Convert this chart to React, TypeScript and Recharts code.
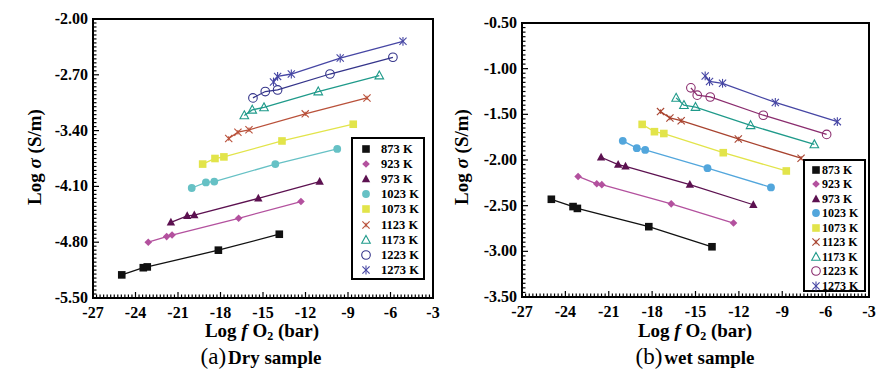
import React from 'react';
import { ScatterChart, Scatter, XAxis, YAxis, ReferenceArea } from 'recharts';

// ---------- data ----------
const tempLabels = ['873 K', '923 K', '973 K', '1023 K', '1073 K', '1123 K', '1173 K', '1223 K', '1273 K'];
const markerKinds = ['square', 'diamond', 'triangle', 'circle', 'square', 'x', 'openTriangle', 'openCircle', 'star'];
const dryColors = ['#111111', '#b3519e', '#5c1150', '#66c1c5', '#e2e44a', '#b9513a', '#1f9a8a', '#34348a', '#4646a4'];
const wetColors = ['#111111', '#b3519e', '#5c1150', '#52a6dc', '#e2e44a', '#a8432f', '#1f9a8a', '#8a2c6e', '#4646a4'];

const xTicks = [-27, -24, -21, -18, -15, -12, -9, -6, -3];
const dryYTicks = [-5.5, -4.8, -4.1, -3.4, -2.7, -2.0];
const wetYTicks = [-3.5, -3.0, -2.5, -2.0, -1.5, -1.0, -0.5];

// Dry sample: [log fO2, log sigma]
const dry873 = [[-24.97, -5.21], [-23.45, -5.12], [-23.17, -5.11], [-18.15, -4.90], [-13.85, -4.70]];
const dry923 = [[-23.1, -4.80], [-21.8, -4.73], [-21.42, -4.71], [-16.72, -4.50], [-12.32, -4.29]];
const dry973 = [[-21.5, -4.55], [-20.35, -4.47], [-19.85, -4.46], [-15.33, -4.25], [-11.0, -4.04]];
const dry1023 = [[-20.03, -4.12], [-19.03, -4.05], [-18.44, -4.04], [-14.13, -3.82], [-9.76, -3.63]];
const dry1073 = [[-19.26, -3.82], [-18.39, -3.75], [-17.76, -3.73], [-13.66, -3.53], [-8.63, -3.32]];
const dry1123 = [[-17.42, -3.50], [-16.77, -3.42], [-15.99, -3.39], [-12.02, -3.19], [-7.66, -2.99]];
const dry1173 = [[-16.32, -3.21], [-15.76, -3.14], [-14.93, -3.11], [-11.1, -2.91], [-6.79, -2.71]];
const dry1223 = [[-15.71, -2.99], [-14.84, -2.91], [-13.97, -2.89], [-10.27, -2.69], [-5.83, -2.48]];
const dry1273 = [[-14.26, -2.79], [-13.97, -2.72], [-13.0, -2.69], [-9.55, -2.49], [-5.12, -2.28]];

// Wet sample
const wet873 = [[-24.97, -2.43], [-23.47, -2.51], [-23.17, -2.53], [-18.23, -2.73], [-13.86, -2.95]];
const wet923 = [[-23.12, -2.18], [-21.83, -2.26], [-21.48, -2.27], [-16.68, -2.48], [-12.37, -2.69]];
const wet973 = [[-21.53, -1.97], [-20.35, -2.05], [-19.84, -2.07], [-15.39, -2.27], [-11.0, -2.49]];
const wet1023 = [[-20.03, -1.79], [-19.06, -1.87], [-18.48, -1.89], [-14.17, -2.09], [-9.78, -2.30]];
const wet1073 = [[-18.69, -1.61], [-17.84, -1.69], [-17.19, -1.71], [-13.08, -1.92], [-8.72, -2.12]];
const wet1123 = [[-17.42, -1.47], [-16.77, -1.54], [-15.99, -1.57], [-12.04, -1.77], [-7.70, -1.98]];
const wet1173 = [[-16.34, -1.32], [-15.8, -1.40], [-15.0, -1.42], [-11.19, -1.62], [-6.78, -1.83]];
const wet1223 = [[-15.32, -1.21], [-14.88, -1.29], [-13.98, -1.31], [-10.31, -1.51], [-5.93, -1.72]];
const wet1273 = [[-14.33, -1.08], [-14.03, -1.14], [-13.13, -1.16], [-9.48, -1.37], [-5.19, -1.58]];

const drySeries = [dry873, dry923, dry973, dry1023, dry1073, dry1123, dry1173, dry1223, dry1273];
const wetSeries = [wet873, wet923, wet973, wet1023, wet1073, wet1123, wet1173, wet1223, wet1273];

// ---------- helpers ----------
const FONT = 'Liberation Serif, serif';

function range(a: number, b: number, step: number) {
  const out: number[] = [];
  const n = Math.round((b - a) / step);
  for (let i = 0; i <= n; i++) out.push(Math.round((a + i * step) * 1000) / 1000);
  return out;
}

const isMajor = (v: number, majors: number[]) => majors.some((m) => Math.abs(m - v) < 1e-6);

function drawMarker(kind: string, color: string, cx: number, cy: number, key?: any) {
  switch (kind) {
    case 'square':
      return <rect key={key} x={cx - 3.8} y={cy - 3.8} width={7.6} height={7.6} fill={color} />;
    case 'diamond':
      return <polygon key={key} points={`${cx},${cy - 3.8} ${cx + 3.8},${cy} ${cx},${cy + 3.8} ${cx - 3.8},${cy}`} fill={color} />;
    case 'triangle':
      return <polygon key={key} points={`${cx},${cy - 4.6} ${cx + 4.2},${cy + 3.2} ${cx - 4.2},${cy + 3.2}`} fill={color} />;
    case 'circle':
      return <circle key={key} cx={cx} cy={cy} r={3.9} fill={color} />;
    case 'openTriangle':
      return <polygon key={key} points={`${cx},${cy - 4.6} ${cx + 4.3},${cy + 3.3} ${cx - 4.3},${cy + 3.3}`} fill="none" stroke={color} strokeWidth={1.1} />;
    case 'openCircle':
      return <circle key={key} cx={cx} cy={cy} r={4.3} fill="none" stroke={color} strokeWidth={1.1} />;
    case 'x':
      return (
        <g key={key} stroke={color} strokeWidth={1.1}>
          <line x1={cx - 3.6} y1={cy - 3.6} x2={cx + 3.6} y2={cy + 3.6} />
          <line x1={cx - 3.6} y1={cy + 3.6} x2={cx + 3.6} y2={cy - 3.6} />
          <line x1={cx} y1={cy - 2.2} x2={cx} y2={cy + 2.2} />
        </g>
      );
    case 'star':
    default:
      return (
        <g key={key} stroke={color} strokeWidth={1.1}>
          <line x1={cx - 3.6} y1={cy - 3.6} x2={cx + 3.6} y2={cy + 3.6} />
          <line x1={cx - 3.6} y1={cy + 3.6} x2={cx + 3.6} y2={cy - 3.6} />
          <line x1={cx} y1={cy - 4.4} x2={cx} y2={cy + 4.4} />
        </g>
      );
  }
}

const makeShape = (kind: string, color: string) => (props: any) => {
  const { cx, cy } = props;
  if (cx == null || cy == null) return <g />;
  return drawMarker(kind, color, cx, cy);
};

// Tick renderers: inward tick marks plus labels on the major ticks.
// tickSize + tickMargin = 8 on x, 5 on y (used to find the axis line).
const makeXTick = () => (props: any) => {
  const { x, y, payload } = props;
  const v = Number(payload.value);
  const major = isMajor(v, xTicks);
  const axisY = y - 8;
  return (
    <g>
      <line x1={x} y1={axisY} x2={x} y2={axisY - (major ? 6 : 3.5)} stroke="#000" strokeWidth={1.2} />
      {major && (
        <text x={x} y={y} dy={12} textAnchor="middle" fill="#000" fontSize={16} fontWeight="bold" fontFamily={FONT}>
          {String(v)}
        </text>
      )}
    </g>
  );
};

const makeYTick = (majors: number[]) => (props: any) => {
  const { x, y, payload } = props;
  const v = Number(payload.value);
  const major = isMajor(v, majors);
  const axisX = x + 5;
  return (
    <g>
      <line x1={axisX} y1={y} x2={axisX + (major ? 6 : 3.5)} y2={y} stroke="#000" strokeWidth={1.2} />
      {major && (
        <text x={x} y={y} dy={5} textAnchor="end" fill="#000" fontSize={16} fontWeight="bold" fontFamily={FONT}>
          {v.toFixed(2)}
        </text>
      )}
    </g>
  );
};

type PanelProps = {
  series: number[][][];
  colors: string[];
  yDomain: [number, number];
  yTicks: number[];
  yMinorStep: number;
  margin: { top: number; right: number; left: number; bottom: number };
  xAxisHeight: number;
};

function Panel({ series, colors, yDomain, yTicks, yMinorStep, margin, xAxisHeight }: PanelProps) {
  const xMinor = range(-27, -3, 0.25);
  const yMinor = range(yDomain[0], yDomain[1], yMinorStep);
  const frame = { stroke: '#000', strokeWidth: 2 };
  return (
    <ScatterChart width={446} height={380} margin={margin}>
      <XAxis
        xAxisId="m"
        type="number"
        dataKey="x"
        domain={[-27, -3]}
        ticks={xMinor}
        interval={0}
        allowDataOverflow
        stroke="#000"
        tickLine={false}
        axisLine={frame}
        tick={makeXTick()}
        tickSize={6}
        tickMargin={2}
        height={xAxisHeight}
      />
      <YAxis
        yAxisId="m"
        type="number"
        dataKey="y"
        domain={yDomain}
        ticks={yMinor}
        interval={0}
        allowDataOverflow
        stroke="#000"
        tickLine={false}
        axisLine={frame}
        tick={makeYTick(yTicks)}
        tickSize={3}
        tickMargin={2}
        width={60}
      />
      <ReferenceArea xAxisId="m" yAxisId="m" x1={-27} x2={-3} y1={yDomain[0]} y2={yDomain[1]}
        fill="none" stroke="#000" strokeWidth={2} ifOverflow="visible" />
      {series.map((pts, i) => (
        <Scatter
          key={tempLabels[i]}
          name={tempLabels[i]}
          xAxisId="m"
          yAxisId="m"
          data={pts.map((p) => ({ x: p[0], y: p[1] }))}
          fill={colors[i]}
          line={{ stroke: colors[i], strokeWidth: 1.3 }}
          lineType="joint"
          shape={makeShape(markerKinds[i], colors[i])}
          isAnimationActive={false}
        />
      ))}
    </ScatterChart>
  );
}

function LegendBox({ colors, left, top, width, height, rowH, firstY, markerX, textX, fontSize }: any) {
  return (
    <div
      style={{
        position: 'absolute', left, top, width, height, boxSizing: 'border-box',
        border: '2px solid #000', background: '#fff',
      }}
    >
      {tempLabels.map((t, i) => (
        <div key={t} style={{ position: 'absolute', left: 0, top: firstY + i * rowH - 8, height: 16, width: '100%' }}>
          <svg width={14} height={16} style={{ position: 'absolute', left: markerX - 7, top: 0 }}>
            {drawMarker(markerKinds[i], colors[i], 7, 8)}
          </svg>
          <span
            style={{
              position: 'absolute', left: textX, top: 0, lineHeight: '16px', fontSize,
              fontWeight: 'bold', fontFamily: FONT, color: '#000', whiteSpace: 'nowrap',
            }}
          >
            {t}
          </span>
        </div>
      ))}
    </div>
  );
}

const centered = (x: number, y: number, extra: any = {}) => ({
  position: 'absolute' as const, left: x, top: y, transform: 'translate(-50%, -50%)', whiteSpace: 'nowrap' as const,
  fontFamily: FONT, color: '#000', lineHeight: 1, ...extra,
});

function YTitle({ x, y }: { x: number; y: number }) {
  return (
    <div style={centered(x, y, { transform: 'translate(-50%, -50%) rotate(-90deg)', fontSize: 19, fontWeight: 'bold' })}>
      Log <i>σ</i> (S/m)
    </div>
  );
}

function XTitle({ x, y }: { x: number; y: number }) {
  return (
    <div style={centered(x, y, { fontSize: 19, fontWeight: 'bold' })}>
      Log <i>f</i> O<sub style={{ fontSize: 12, verticalAlign: '-3px' }}>2</sub> (bar)
    </div>
  );
}

function SubTitle({ x, y, tag, text }: { x: number; y: number; tag: string; text: string }) {
  return (
    <div style={centered(x, y, { fontSize: 19, fontWeight: 'bold' })}>
      <span style={{ fontSize: 23, fontWeight: 'normal' }}>{tag}</span>
      <span style={{ marginLeft: 2 }}>{text}</span>
    </div>
  );
}

export default function App() {
  return (
    <div style={{ position: 'absolute', left: 0, top: 0, width: 892, height: 380, background: '#fff', overflow: 'hidden' }}>
      <div style={{ position: 'absolute', left: 0, top: 0 }}>
        <Panel
          series={drySeries}
          colors={dryColors}
          yDomain={[-5.5, -2.0]}
          yTicks={dryYTicks}
          yMinorStep={0.05}
          margin={{ top: 19, right: 13, left: 33, bottom: 0 }}
          xAxisHeight={82}
        />
      </div>
      <div style={{ position: 'absolute', left: 446, top: 0 }}>
        <Panel
          series={wetSeries}
          colors={wetColors}
          yDomain={[-3.5, -0.5]}
          yTicks={wetYTicks}
          yMinorStep={0.05}
          margin={{ top: 23, right: 23, left: 16, bottom: 0 }}
          xAxisHeight={83}
        />
      </div>
      <LegendBox colors={dryColors} left={351} top={137} width={74} height={143} rowH={15.1} firstY={10} markerX={13} textX={28} fontSize={12.5} />
      <LegendBox colors={wetColors} left={803} top={159} width={63} height={133} rowH={14.5} firstY={8.5} markerX={11} textX={17} fontSize={12} />
      <YTitle x={34} y={157} />
      <YTitle x={461} y={157} />
      <XTitle x={262} y={331} />
      <XTitle x={695} y={331} />
      <SubTitle x={261} y={356} tag="(a)" text="Dry sample" />
      <SubTitle x={695} y={356} tag="(b)" text="wet sample" />
    </div>
  );
}
